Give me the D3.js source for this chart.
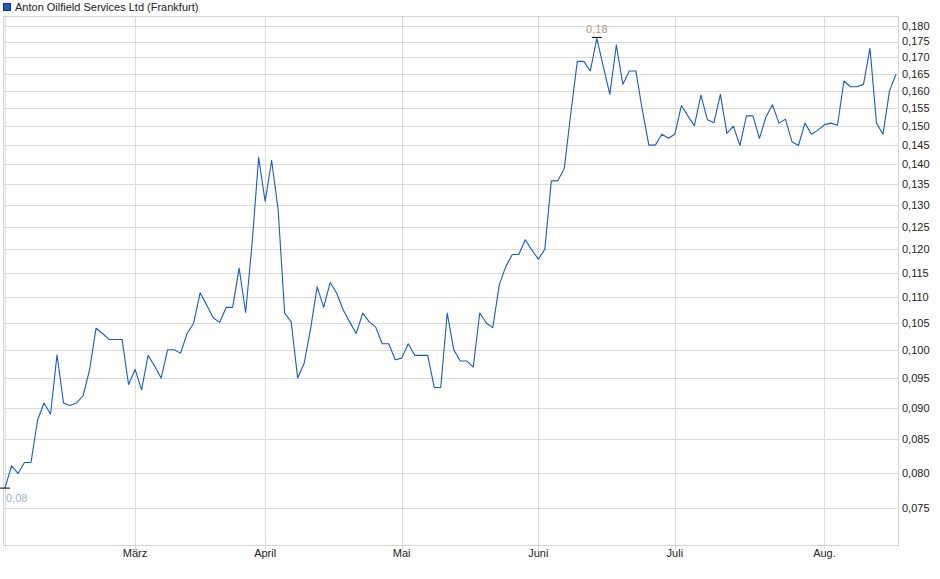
<!DOCTYPE html>
<html>
<head>
<meta charset="utf-8">
<script src="https://cdn.jsdelivr.net/npm/d3@7"></script>
<style>
body { margin: 0; background: #fff; }
svg { display: block; font-family: "Liberation Sans", Arial, sans-serif; }
</style>
</head>
<body>
<script>
// daily closing prices (EUR), one per trading day
var prices = [
  0.0778,0.0810,0.0799,0.0815,0.0815,0.0880,0.0908,0.0890,0.0991,0.0908,
  0.0904,0.0908,0.0920,0.0964,0.1040,0.1030,0.1019,0.1019,0.1019,0.0939,
  0.0965,0.0930,0.0990,0.0971,0.0950,0.1000,0.1000,0.0994,0.1030,0.1049,
  0.1109,0.1085,0.1060,0.1051,0.1080,0.1080,0.1160,0.1070,0.1214,0.1418,
  0.1309,0.1410,0.1289,0.1069,0.1052,0.0950,0.0976,0.1040,0.1121,0.1080,
  0.1130,0.1108,0.1075,0.1052,0.1030,0.1069,0.1052,0.1042,0.1011,0.1011,
  0.0982,0.0985,0.1011,0.0990,0.0990,0.0990,0.0934,0.0934,0.1069,0.1000,
  0.0980,0.0980,0.0969,0.1069,0.1050,0.1041,0.1125,0.1163,0.1189,0.1189,
  0.1221,0.1199,0.1179,0.1200,0.1359,0.1359,0.1390,0.1537,0.1688,0.1688,
  0.1659,0.1760,0.1672,0.1590,0.1739,0.1619,0.1659,0.1659,0.1545,0.1450,
  0.1450,0.1479,0.1468,0.1479,0.1558,0.1529,0.1502,0.1588,0.1518,0.1510,
  0.1590,0.1481,0.1501,0.1449,0.1529,0.1529,0.1468,0.1526,0.1560,0.1509,
  0.1520,0.1459,0.1449,0.1509,0.1479,0.1490,0.1505,0.1509,0.1503,0.1629,
  0.1612,0.1612,0.1619,0.1729,0.1509,0.1479,0.1600,0.1649
];

// first trading day of each month (index into prices)
var monthIdx = [0, 20, 40, 61, 82, 103, 126];
var monthNames = ["Feb.", "März", "April", "Mai", "Juni", "Juli", "Aug."];

var yTicks = [0.075, 0.080, 0.085, 0.090, 0.095, 0.100, 0.105, 0.110, 0.115,
              0.120, 0.125, 0.130, 0.135, 0.140, 0.145, 0.150, 0.155, 0.160,
              0.165, 0.170, 0.175, 0.180];

var seriesName = "Anton Oilfield Services Ltd (Frankfurt)";

var width = 940,
    height = 579;

var plot = {left: 3, right: 898, top: 16, bottom: 545};

var svg = d3.select('body')
    .append('svg')
    .attr('width', width)
    .attr('height', height);

var x = d3.scaleLinear()
    .domain([0, prices.length - 1])
    .range([5, 896]);

var y = d3.scaleLog()
    .domain([0.075, 0.18])
    .range([508.3, 26]);

var fmt3 = function(v) { return d3.format(".3f")(v).replace(".", ","); };
var fmt2 = function(v) { return d3.format(".2f")(v).replace(".", ","); };

// legend
svg.append('rect')
    .attr('x', 3.5).attr('y', 3.5)
    .attr('width', 7).attr('height', 7)
    .attr('fill', '#1f5cc4')
    .attr('stroke', '#17387a');

svg.append('text')
    .attr('x', 15).attr('y', 11)
    .attr('font-size', '11px')
    .attr('fill', '#222')
    .text(seriesName);

// horizontal grid
svg.selectAll('line.hgrid')
    .data(yTicks).enter()
    .append('line')
    .attr('class', 'hgrid')
    .attr('x1', plot.left).attr('x2', plot.right)
    .attr('y1', (d) => Math.round(y(d)) + 0.5)
    .attr('y2', (d) => Math.round(y(d)) + 0.5)
    .attr('stroke', '#dcdcdc');

// vertical grid at month starts
svg.selectAll('line.vgrid')
    .data(monthIdx).enter()
    .append('line')
    .attr('class', 'vgrid')
    .attr('x1', (d) => Math.round(x(d)) + 0.5)
    .attr('x2', (d) => Math.round(x(d)) + 0.5)
    .attr('y1', plot.top).attr('y2', plot.bottom + 4)
    .attr('stroke', '#dcdcdc');

// plot frame
svg.append('rect')
    .attr('x', plot.left + 0.5).attr('y', plot.top + 0.5)
    .attr('width', plot.right - plot.left)
    .attr('height', plot.bottom - plot.top)
    .attr('fill', 'none')
    .attr('stroke', '#d4d4d4');

// y labels (right side)
svg.selectAll('text.ylab')
    .data(yTicks).enter()
    .append('text')
    .attr('class', 'ylab')
    .attr('x', 902)
    .attr('y', (d) => y(d))
    .attr('dy', '0.35em')
    .attr('font-size', '11px')
    .attr('fill', '#222')
    .text(fmt3);

// x labels
svg.selectAll('text.xlab')
    .data(monthIdx.filter((d) => x(d) > 30)).enter()
    .append('text')
    .attr('class', 'xlab')
    .attr('x', (d) => x(d))
    .attr('y', 557)
    .attr('text-anchor', 'middle')
    .attr('font-size', '11px')
    .attr('fill', '#222')
    .text((d) => monthNames[monthIdx.indexOf(d)]);

// price line
var line = d3.line()
    .x((d, i) => x(i))
    .y((d) => y(d));

svg.append('path')
    .datum(prices)
    .attr('fill', 'none')
    .attr('stroke', '#1a5bc6')
    .attr('stroke-width', 1.1)
    .attr('stroke-linejoin', 'round')
    .attr('d', line);

// min / max markers
var iMin = d3.minIndex(prices),
    iMax = d3.maxIndex(prices);

svg.append('line')
    .attr('x1', Math.max(0, x(iMin) - 5)).attr('x2', x(iMin) + 5)
    .attr('y1', y(prices[iMin])).attr('y2', y(prices[iMin]))
    .attr('stroke', '#000');

svg.append('text')
    .attr('x', x(iMin) + 1)
    .attr('y', y(prices[iMin]) + 14)
    .attr('font-size', '11px')
    .attr('fill', '#a3b3c6')
    .text(fmt2(prices[iMin]));

svg.append('line')
    .attr('x1', x(iMax) - 5).attr('x2', x(iMax) + 5)
    .attr('y1', y(prices[iMax]) - 1).attr('y2', y(prices[iMax]) - 1)
    .attr('stroke', '#000');

svg.append('text')
    .attr('x', x(iMax))
    .attr('y', y(prices[iMax]) - 5)
    .attr('text-anchor', 'middle')
    .attr('font-size', '11px')
    .attr('fill', '#ab9c8c')
    .text(fmt2(prices[iMax]));
</script>
</body>
</html>
